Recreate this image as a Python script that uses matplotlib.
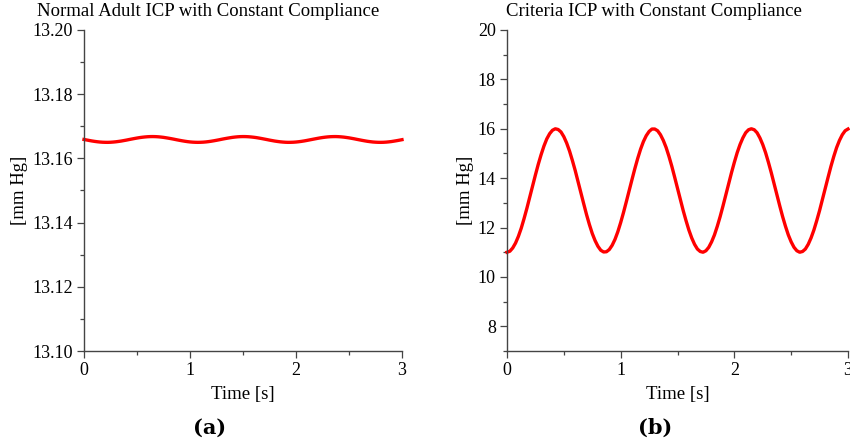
import matplotlib
matplotlib.use('Agg')
import matplotlib.pyplot as plt
from matplotlib.ticker import MultipleLocator, FormatStrFormatter

plt.rcParams['font.family'] = ['Liberation Serif', 'DejaVu Serif']

# time samples [s]
time = [i * 0.025 for i in range(121)]

# normal adult ICP [mm Hg]
icp_normal = [
    13.16590, 13.16574, 13.16558, 13.16543, 13.16530, 13.16519, 13.16510, 13.16504,
    13.16501, 13.16500, 13.16503, 13.16509, 13.16517, 13.16528, 13.16540, 13.16555,
    13.16570, 13.16587, 13.16603, 13.16619, 13.16634, 13.16648, 13.16659, 13.16668,
    13.16675, 13.16679, 13.16680, 13.16678, 13.16673, 13.16665, 13.16655, 13.16642,
    13.16628, 13.16613, 13.16597, 13.16580, 13.16564, 13.16549, 13.16535, 13.16523,
    13.16513, 13.16506, 13.16502, 13.16500, 13.16502, 13.16506, 13.16513, 13.16523,
    13.16535, 13.16549, 13.16564, 13.16580, 13.16597, 13.16613, 13.16628, 13.16642,
    13.16655, 13.16665, 13.16673, 13.16678, 13.16680, 13.16679, 13.16675, 13.16668,
    13.16659, 13.16648, 13.16634, 13.16619, 13.16603, 13.16587, 13.16570, 13.16555,
    13.16540, 13.16528, 13.16517, 13.16509, 13.16503, 13.16500, 13.16501, 13.16504,
    13.16510, 13.16519, 13.16530, 13.16543, 13.16558, 13.16574, 13.16590, 13.16606,
    13.16622, 13.16637, 13.16650, 13.16661, 13.16670, 13.16676, 13.16679, 13.16680,
    13.16677, 13.16671, 13.16663, 13.16652, 13.16640, 13.16625, 13.16610, 13.16593,
    13.16577, 13.16561, 13.16546, 13.16532, 13.16521, 13.16511, 13.16505, 13.16501,
    13.16500, 13.16502, 13.16507, 13.16515, 13.16525, 13.16538, 13.16552, 13.16567,
    13.16583,
]

# criteria ICP [mm Hg]
icp_criteria = [
    11.00, 11.04, 11.17, 11.37, 11.64, 11.97, 12.36, 12.78, 13.23, 13.68,
    14.13, 14.56, 14.95, 15.30, 15.59, 15.80, 15.94, 16.00, 15.97, 15.87,
    15.68, 15.42, 15.10, 14.72, 14.31, 13.86, 13.41, 12.96, 12.52, 12.12,
    11.76, 11.47, 11.24, 11.08, 11.01, 11.02, 11.11, 11.28, 11.52, 11.83,
    12.20, 12.61, 13.05, 13.50, 13.95, 14.39, 14.80, 15.17, 15.48, 15.72,
    15.89, 15.99, 15.99, 15.92, 15.76, 15.53, 15.24, 14.88, 14.48, 14.04,
    13.59, 13.14, 12.69, 12.28, 11.90, 11.58, 11.32, 11.13, 11.03, 11.00,
    11.06, 11.20, 11.42, 11.70, 12.05, 12.44, 12.87, 13.32, 13.77, 14.22,
    14.64, 15.03, 15.36, 15.63, 15.84, 15.96, 16.00, 15.96, 15.84, 15.63,
    15.36, 15.03, 14.64, 14.22, 13.77, 13.32, 12.87, 12.44, 12.05, 11.70,
    11.42, 11.20, 11.06, 11.00, 11.03, 11.13, 11.32, 11.58, 11.90, 12.28,
    12.69, 13.14, 13.59, 14.04, 14.48, 14.88, 15.24, 15.53, 15.76, 15.92,
    15.99,
]

fig = plt.figure(figsize=(8.5, 4.46), dpi=100)
ax1 = fig.add_axes([84 / 850, 95 / 446, 318 / 850, 321 / 446])
ax2 = fig.add_axes([507 / 850, 95 / 446, 341 / 850, 321 / 446])

axis_col = '#444444'


def style(ax):
    for s in ['top', 'right']:
        ax.spines[s].set_visible(False)
    for s in ['left', 'bottom']:
        ax.spines[s].set_color(axis_col)
        ax.spines[s].set_linewidth(1.0)
    ax.tick_params(which='major', length=5, width=0.9, color=axis_col,
                   labelsize=13, direction='out', pad=3)
    ax.tick_params(which='minor', length=3, width=0.9, color=axis_col,
                   direction='out')
    ax.set_xlim(0, 3)
    ax.xaxis.set_major_locator(MultipleLocator(1))
    ax.xaxis.set_minor_locator(MultipleLocator(0.5))
    ax.set_xlabel('Time [s]', fontsize=13.5, labelpad=5)
    ax.set_ylabel('[mm Hg]', fontsize=13.5, labelpad=3)


ax1.plot(time, icp_normal, color='red', lw=2.4, clip_on=False)
style(ax1)
ax1.set_ylim(13.10, 13.20)
ax1.yaxis.set_major_locator(MultipleLocator(0.02))
ax1.yaxis.set_minor_locator(MultipleLocator(0.01))
ax1.yaxis.set_major_formatter(FormatStrFormatter('%.2f'))

ax2.plot(time, icp_criteria, color='red', lw=2.4, clip_on=False)
style(ax2)
ax2.set_ylim(7, 20)
ax2.yaxis.set_major_locator(MultipleLocator(2))
ax2.yaxis.set_minor_locator(MultipleLocator(1))

fig.text(208 / 850, 1 - 12 / 446, 'Normal Adult ICP with Constant Compliance',
         ha='center', va='center', fontsize=13.5)
fig.text(654 / 850, 1 - 12 / 446, 'Criteria ICP with Constant Compliance',
         ha='center', va='center', fontsize=13.5)

fig.text(210 / 850, 1 - 428 / 446, '(a)', ha='center', va='center',
         fontsize=15, fontweight='bold', family='DejaVu Serif')
fig.text(655 / 850, 1 - 428 / 446, '(b)', ha='center', va='center',
         fontsize=15, fontweight='bold', family='DejaVu Serif')

fig.savefig('out.png', dpi=100)
